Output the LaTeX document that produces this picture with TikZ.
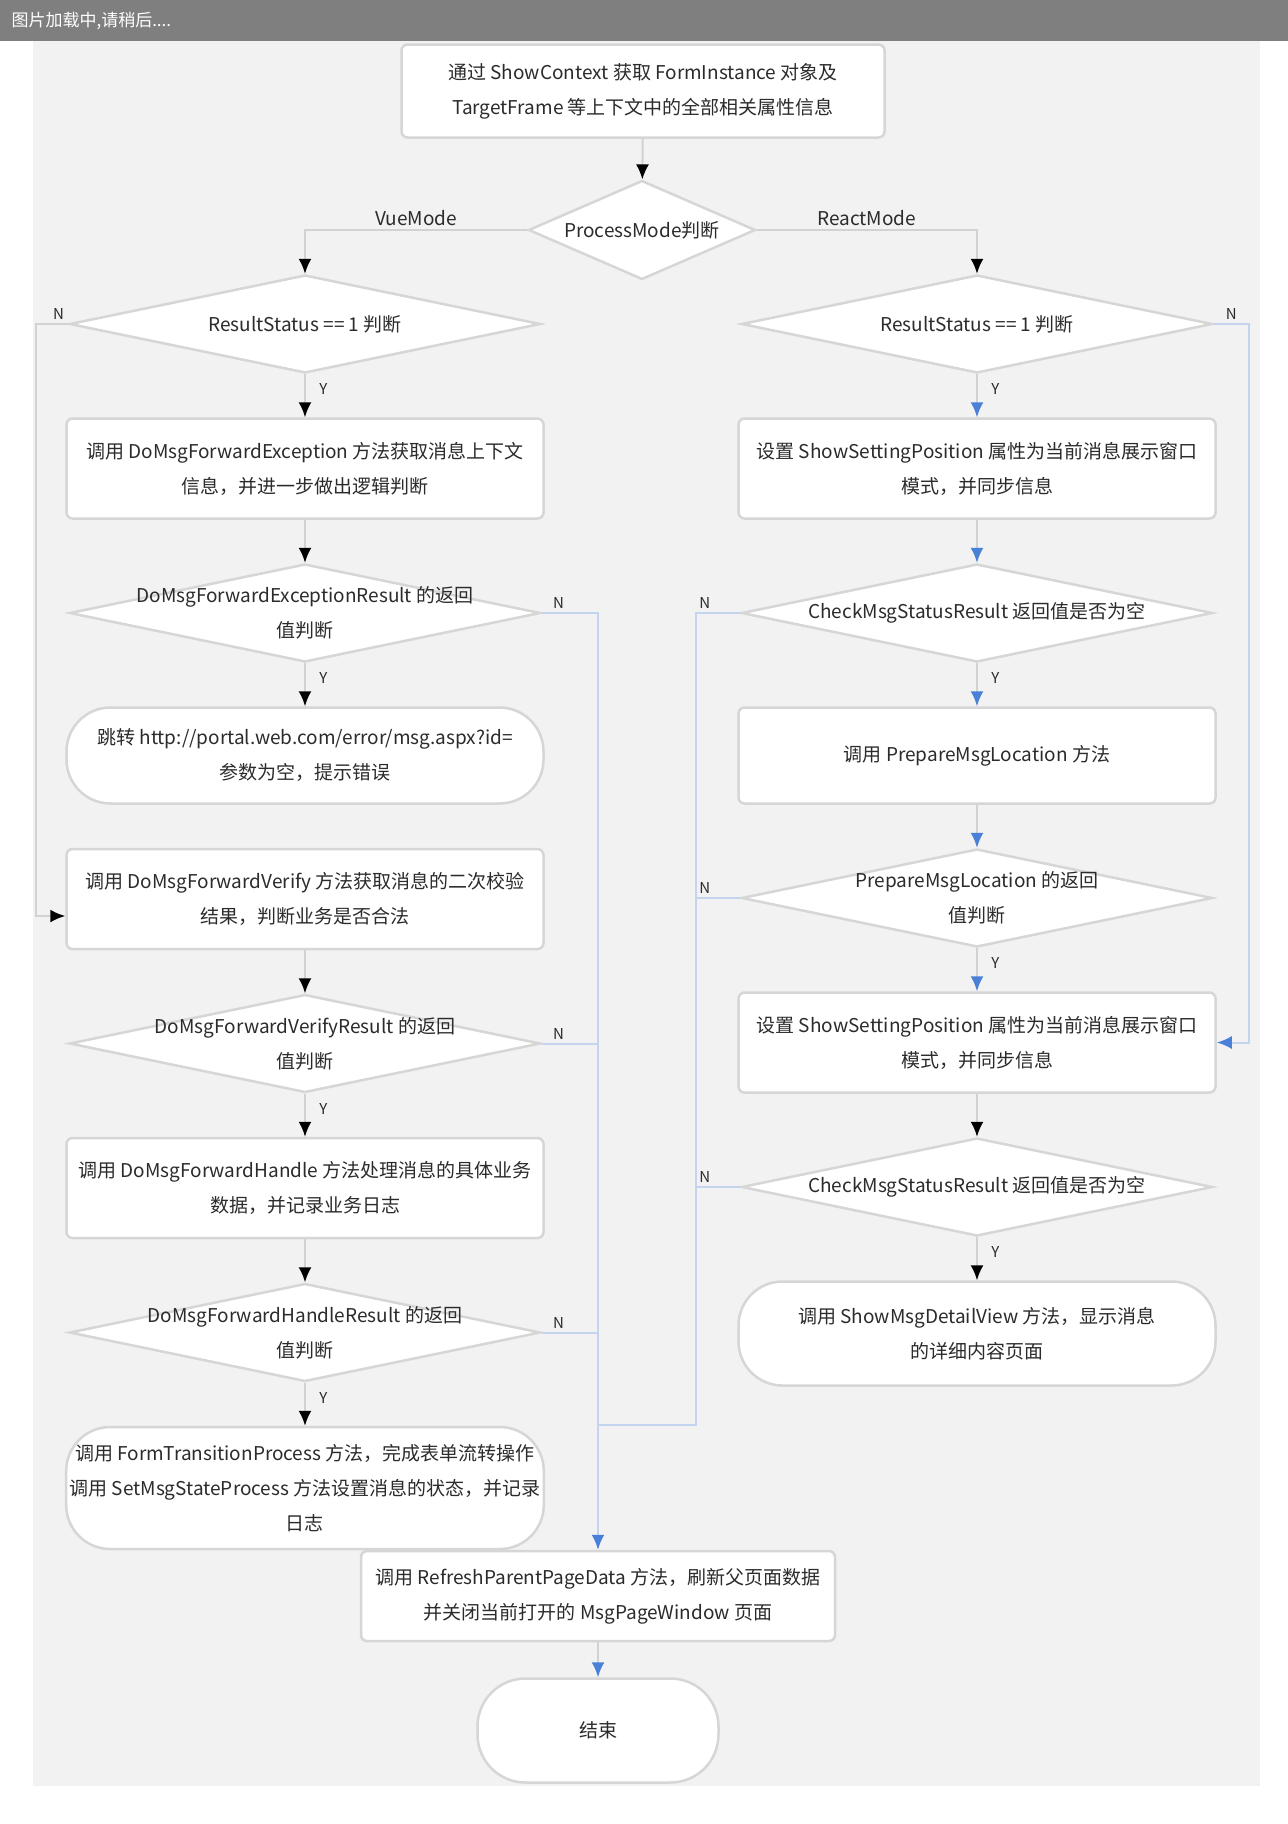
\documentclass[tikz,border=0pt]{standalone}
\usepackage{fontspec}
\setmainfont{Noto Sans CJK SC}
\usetikzlibrary{arrows.meta, positioning, calc, shapes.geometric}

\definecolor{bannergray}{HTML}{7F7F7F}
\definecolor{panelgray}{HTML}{F2F2F2}
\definecolor{edgegray}{HTML}{D6D6D6}
\definecolor{linegray}{HTML}{D2D2D2}
\definecolor{busblue}{HTML}{C3D4EF}
\definecolor{headblue}{HTML}{4A80D8}
\definecolor{textgray}{HTML}{2B2B2B}

\begin{document}
\begin{tikzpicture}[
    x=1pt, y=-1pt,
    font=\fontsize{19pt}{35pt}\selectfont,
    text=textgray,
    node distance=43pt,
    block/.style={
      draw=edgegray,
      line width=2.5pt,
      fill=white,
      rounded corners=6pt,
      align=center,
      minimum width=477pt,
      minimum height=100pt
    },
    roundblock/.style={
      draw=edgegray,
      line width=2.5pt,
      fill=white,
      rounded corners=44pt,
      align=center,
      minimum width=477pt,
      minimum height=96pt
    },
    decision/.style={
      diamond,
      draw=edgegray,
      line width=2.5pt,
      fill=white,
      inner sep=0pt,
      minimum width=471pt,
      minimum height=98pt
    },
    dtext/.style={align=center, text=textgray, inner sep=0pt},
    yn/.style={font=\fontsize{15pt}{17pt}\selectfont, text=textgray},
    flowline/.style={draw=linegray, line width=2pt},
    busline/.style={draw=busblue, line width=2pt},
    tipblack/.style={-{Latex[length=15pt, width=13pt, color=black]}},
    tipblue/.style={-{Latex[length=15pt, width=13pt, color=headblue]}}
]
\useasboundingbox (0,0) rectangle (1288,1824);

% background: loading banner and grey panel
\fill[bannergray] (0,0) rectangle (1288,41);
\node[anchor=west, text=white, font=\fontsize{17pt}{20pt}\selectfont] (loadingTip) at (8,21) {图片加载中,请稍后....};
\fill[panelgray] (33,41) rectangle (1260,1786);

% 1) start and mode switch
\node[block, minimum width=483pt, minimum height=93pt] (start) at (643,91)
  {通过 ShowContext 获取 FormInstance 对象及\\TargetFrame 等上下文中的全部相关属性信息};
\node[decision, minimum width=227pt, minimum height=99pt,
      label={[dtext]center:ProcessMode判断}] (mode) at (642,230) {};

% 2) VueMode column
\node[decision, label={[dtext]center:ResultStatus == 1 判断}] (vueCheck) at (305,324) {};
\node[block, below=of vueCheck] (vueCall)
  {调用 DoMsgForwardException 方法获取消息上下文\\信息，并进一步做出逻辑判断};
\node[decision, below=of vueCall,
      label={[dtext]center:DoMsgForwardExceptionResult 的返回\\值判断}] (vueCallOk) {};
\node[roundblock, below=of vueCallOk] (vueJump)
  {跳转 http://portal.web.com/error/msg.aspx?id=\\参数为空，提示错误};
\node[block, below=of vueJump] (vueVerify)
  {调用 DoMsgForwardVerify 方法获取消息的二次校验\\结果，判断业务是否合法};
\node[decision, below=of vueVerify,
      label={[dtext]center:DoMsgForwardVerifyResult 的返回\\值判断}] (vueVerifyOk) {};
\node[block, below=of vueVerifyOk] (vueHandle)
  {调用 DoMsgForwardHandle 方法处理消息的具体业务\\数据，并记录业务日志};
\node[decision, below=of vueHandle,
      label={[dtext]center:DoMsgForwardHandleResult 的返回\\值判断}] (vueHandleOk) {};
\node[roundblock, minimum height=122pt, below=of vueHandleOk] (vueFinish)
  {调用 FormTransitionProcess 方法，完成表单流转操作\\调用 SetMsgStateProcess 方法设置消息的状态，并记录\\日志};

% 3) ReactMode column
\node[decision, label={[dtext]center:ResultStatus == 1 判断}] (reactCheck) at (977,324) {};
\node[block, below=of reactCheck] (reactShow)
  {设置 ShowSettingPosition 属性为当前消息展示窗口\\模式，并同步信息};
\node[decision, below=of reactShow,
      label={[dtext]center:CheckMsgStatusResult 返回值是否为空}] (reactStatusOk) {};
\node[block, minimum height=96pt, below=of reactStatusOk] (reactPrepare)
  {调用 PrepareMsgLocation 方法};
\node[decision, below=of reactPrepare,
      label={[dtext]center:PrepareMsgLocation 的返回\\值判断}] (reactPrepareOk) {};
\node[block, below=of reactPrepareOk] (reactShowAgain)
  {设置 ShowSettingPosition 属性为当前消息展示窗口\\模式，并同步信息};
\node[decision, below=of reactShowAgain,
      label={[dtext]center:CheckMsgStatusResult 返回值是否为空}] (reactStatusAgain) {};
\node[roundblock, minimum height=104pt, below=of reactStatusAgain] (reactView)
  {调用 ShowMsgDetailView 方法，显示消息\\的详细内容页面};

% 4) common tail
\node[block, minimum width=474pt, minimum height=90pt] (refresh) at (598,1596)
  {调用 RefreshParentPageData 方法，刷新父页面数据\\并关闭当前打开的 MsgPageWindow 页面};
\node[roundblock, minimum width=241pt, minimum height=104pt, rounded corners=48pt,
      below=35pt of refresh] (endNode) {结束};
\coordinate (reactJoin) at (696,1425);

% ARROWS
% start -> mode -> both columns
\draw[flowline, tipblack] (start) -- (mode);
\draw[flowline, tipblack] (mode.west) -| node[pos=0.25, above]{VueMode} (vueCheck.north);
\draw[flowline, tipblack] (mode.east) -| node[pos=0.25, above]{ReactMode} (reactCheck.north);

% VueMode chain
\draw[flowline, tipblack] (vueCheck) -- node[yn, pos=0.35, right=10pt]{Y} (vueCall);
\draw[flowline, tipblack] (vueCall) -- (vueCallOk);
\draw[flowline, tipblack] (vueCallOk) -- node[yn, pos=0.35, right=10pt]{Y} (vueJump);
\draw[flowline, tipblack] (vueVerify) -- (vueVerifyOk);
\draw[flowline, tipblack] (vueVerifyOk) -- node[yn, pos=0.35, right=10pt]{Y} (vueHandle);
\draw[flowline, tipblack] (vueHandle) -- (vueHandleOk);
\draw[flowline, tipblack] (vueHandleOk) -- node[yn, pos=0.35, right=10pt]{Y} (vueFinish);
\draw[flowline, tipblack] (vueCheck.west) -- node[yn, pos=0.3, above]{N} ++(-32,0)
   |- ($(vueVerify.west)+(0,17)$);

% ReactMode chain
\draw[flowline, tipblue] (reactCheck) -- node[yn, pos=0.35, right=10pt]{Y} (reactShow);
\draw[flowline, tipblue] (reactShow) -- (reactStatusOk);
\draw[flowline, tipblue] (reactStatusOk) -- node[yn, pos=0.35, right=10pt]{Y} (reactPrepare);
\draw[flowline, tipblue] (reactPrepare) -- (reactPrepareOk);
\draw[flowline, tipblue] (reactPrepareOk) -- node[yn, pos=0.35, right=10pt]{Y} (reactShowAgain);
\draw[flowline, tipblack] (reactShowAgain) -- (reactStatusAgain);
\draw[flowline, tipblack] (reactStatusAgain) -- node[yn, pos=0.35, right=10pt]{Y} (reactView);
\draw[busline, tipblue] (reactCheck.east) -- node[yn, pos=0.5, above]{N} ++(35,0)
   |- (reactShowAgain.east);

% N branches -> refresh
\draw[busline, tipblue] (vueCallOk.east) -- node[yn, pos=0.3, above]{N} (vueCallOk.east -| refresh.north)
   -- (refresh.north);
\draw[busline] (vueVerifyOk.east) -- node[yn, pos=0.3, above]{N} (vueVerifyOk.east -| refresh.north);
\draw[busline] (vueHandleOk.east) -- node[yn, pos=0.3, above]{N} (vueHandleOk.east -| refresh.north);
\draw[busline] (reactStatusOk.west) -- node[yn, pos=0.8, above]{N} (reactStatusOk.west -| reactJoin)
   -- (reactJoin) -- (reactJoin -| refresh.north);
\draw[busline] (reactPrepareOk.west) -- node[yn, pos=0.8, above]{N} (reactPrepareOk.west -| reactJoin);
\draw[busline] (reactStatusAgain.west) -- node[yn, pos=0.8, above]{N} (reactStatusAgain.west -| reactJoin);

% refresh -> end
\draw[flowline, tipblue] (refresh) -- (endNode);

\end{tikzpicture}
\end{document}
